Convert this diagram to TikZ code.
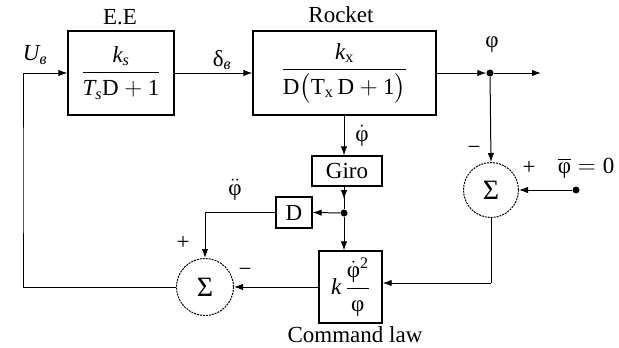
\documentclass[tikz,border=0pt]{standalone}
\usepackage{amsmath}
\usepackage{fontspec}
\setmainfont{Liberation Serif}
\usetikzlibrary{arrows.meta}
\begin{document}
\begin{tikzpicture}[x=1pt,y=-1pt,
  every node/.style={font=\fontsize{23}{27}\selectfont, inner sep=0pt},
  blk/.style={draw, line width=1.3pt},
  sumc/.style={draw, circle, dash pattern=on 2pt off 1pt, line width=1pt, minimum size=55pt, font=\fontsize{28}{30}\selectfont},
  arr/.style={-{Latex[length=9pt,width=6.5pt]}},
  wire/.style={line width=1pt},
  jdot/.style={circle, fill, minimum size=7pt}
]
\useasboundingbox (0,0) rectangle (619,348);

% blocks
\node[blk, minimum width=106pt, minimum height=84pt] (ee) at (121,73)
  {$\dfrac{\text{\itshape k}_{\text{\itshape s}}}{\text{\itshape T}_{\text{\itshape s}}\text{D}+\text{1}}$};
\node[blk, minimum width=183pt, minimum height=84pt] (rk) at (344.5,73)
  {$\dfrac{\text{\itshape k}_{\text{x}}}{\text{D}\bigl(\text{T}_{\text{x}}\,\text{D}+\text{1}\bigr)}$};
\node[blk, minimum width=70pt, minimum height=30pt] (giro) at (347,171) {Giro};
\node[blk, minimum width=36pt, minimum height=31pt] (dbox) at (294,212.5) {D};
\node[blk, minimum width=63pt, minimum height=72pt] (cmd) at (350.5,287)
  {$\text{\itshape k}\,\dfrac{\dot{\text{φ}}^{\text{2}}}{\text{φ}}$};
\node[sumc] (sumR) at (491,190) {Σ};
\node[sumc, minimum size=57pt] (sumL) at (205,287) {Σ};

% junctions
\node[jdot] (j1) at (490,73) {};
\node[jdot] (j2) at (344,213) {};
\node[jdot] (src) at (576,190) {};
\coordinate (outend) at (541,73);
\coordinate (rc) at (491,283);
\coordinate (lc) at (23,180);
\coordinate (gmid) at (344,199);

% connectors
\draw[wire,arr] (ee.east) -- (rk.west);
\draw[wire,arr] (rk.east) -- (j1);
\draw[wire,arr] (j1) -- (outend);
\draw[wire,arr] (j1) -- (sumR.north);
\draw[wire,arr] (src) -- (sumR.east);
\draw[wire] (sumR.south) -- (rc);
\draw[wire,arr] (rc) -- (rc -| cmd.east);
\draw[wire,arr] (rk.south -| j2) -- (giro.north -| j2);
\draw[wire] (giro.south -| j2) -- (j2);
\draw[wire,arr] (giro.south -| j2) -- (gmid);
\draw[wire,arr] (j2) -- (dbox.east);
\draw[wire,arr] (j2) -- (j2 |- cmd.north);
\draw[wire,arr] (dbox.west) -| (sumL.north);
\draw[wire,arr] (cmd.west) -- (sumL.east);
\draw[wire,arr] (sumL.west) -| (lc) |- (ee.west);

% labels
\node (lee) at (120,17) {E.E};
\node (lrk) at (341,15) {Rocket};
\node (lu) at (35,55) {$\text{\itshape U}_{\text{\itshape в}}$};
\node (ld) at (222,60) {$\text{δ}_{\text{\itshape в}}$};
\node (lphi) at (492,45) {φ};
\node (lphid) at (362,136) {$\dot{\text{φ}}$};
\node (lphidd) at (235,190) {$\ddot{\text{φ}}$};
\node (mR) at (474,150) {−};
\node (pR) at (529,168) {+};
\node (ref) at (586,168) {$\overline{\text{φ}}=\text{0}$};
\node (pL) at (183,243) {+};
\node (mL) at (245,272) {−};
\node (lcl) at (355,335) {Command law};
\end{tikzpicture}
\end{document}
